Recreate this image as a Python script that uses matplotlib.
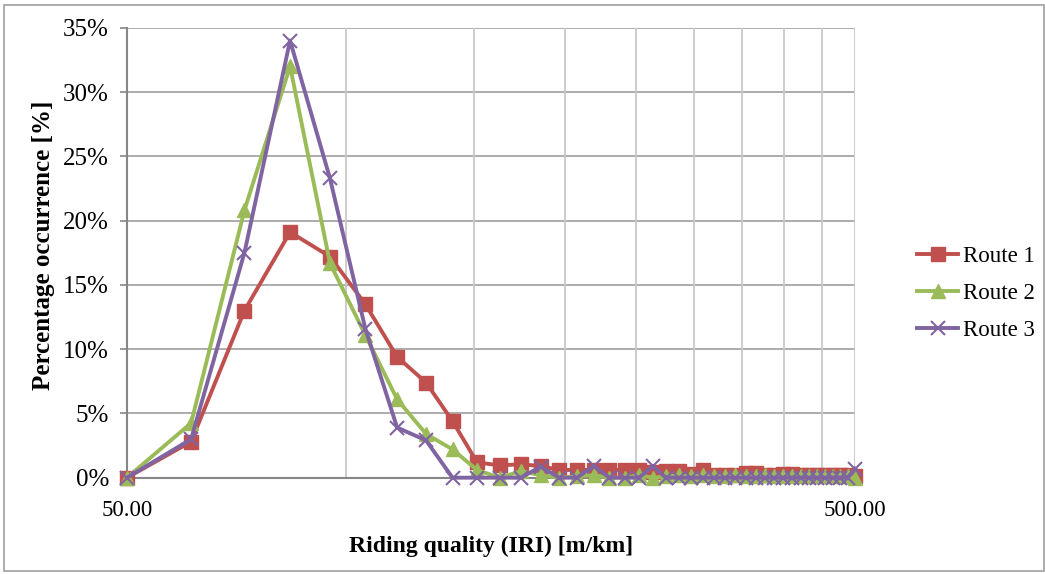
import matplotlib.pyplot as plt
from matplotlib.patches import Rectangle
from matplotlib.ticker import FixedLocator, NullFormatter, FixedFormatter

# IRI bin values (m/km)
iri = [50.00, 61.25, 72.50, 83.75, 95.00, 106.25, 117.50, 128.75, 140.00, 151.25,
       162.50, 173.75, 185.00, 196.25, 207.50, 218.75, 230.00, 241.25, 252.50, 263.75,
       275.00, 286.25, 297.50, 308.75, 320.00, 331.25, 342.50, 353.75, 365.00, 376.25,
       387.50, 398.75, 410.00, 421.25, 432.50, 443.75, 455.00, 466.25, 477.50, 488.75,
       500.00]

# percentage occurrence per route
route1 = [0.0, 2.8, 13.0, 19.1, 17.2, 13.5, 9.4, 7.4, 4.4, 1.2,
          0.95, 1.05, 0.9, 0.6, 0.6, 0.6, 0.6, 0.6, 0.6, 0.45,
          0.5, 0.5, 0.3, 0.6, 0.2, 0.2, 0.2, 0.4, 0.4, 0.2,
          0.2, 0.3, 0.3, 0.2, 0.2, 0.2, 0.2, 0.2, 0.2, 0.2,
          0.1]
route2 = [0.0, 4.25, 20.8, 32.0, 16.7, 11.1, 6.1, 3.4, 2.2, 0.6,
          0.0, 0.5, 0.2, 0.0, 0.1, 0.2, 0.0, 0.0, 0.2, 0.0,
          0.1, 0.2, 0.1, 0.2, 0.1, 0.1, 0.2, 0.1, 0.1, 0.2,
          0.1, 0.1, 0.1, 0.1, 0.1, 0.1, 0.1, 0.1, 0.1, 0.1,
          0.0]
route3 = [0.0, 3.0, 17.5, 34.0, 23.3, 11.6, 3.9, 2.9, 0.0, 0.0,
          0.0, 0.0, 0.85, 0.0, 0.0, 0.9, 0.0, 0.0, 0.0, 0.9,
          0.0, 0.0, 0.0, 0.0, 0.0, 0.0, 0.0, 0.0, 0.0, 0.0,
          0.0, 0.0, 0.0, 0.0, 0.0, 0.0, 0.0, 0.0, 0.0, 0.0,
          0.7]

y_ticks = [0, 5, 10, 15, 20, 25, 30, 35]
x_grid = [100, 150, 200, 250, 300, 350, 400, 450, 500]

plt.rcParams.update({
    'font.family': ['Liberation Serif', 'DejaVu Serif'],
    'font.size': 16,
})

fig = plt.figure(figsize=(10.45, 5.74), dpi=100)
ax = fig.add_axes([0.1215, 0.1678, 0.6967, 0.7839])

ax.set_xscale('log')
ax.set_xlim(50, 500)
ax.set_ylim(0, 35)

# grid
for y in y_ticks[1:]:
    ax.axhline(y, color='#A6A6A6', lw=1.3, zorder=1)
for x in x_grid:
    ax.axvline(x, color='#C8C8C8', lw=1.3, zorder=1)

ax.plot(iri, route1, color='#C0504D', lw=2.8, marker='s', ms=10,
        label='Route 1', zorder=3, clip_on=False)
ax.plot(iri, route2, color='#9BBB59', lw=2.8, marker='^', ms=10,
        label='Route 2', zorder=4, clip_on=False)
ax.plot(iri, route3, color='#8064A2', lw=2.8, marker='x', ms=10, mew=1.5,
        label='Route 3', zorder=5, clip_on=False)

# axes styling
for s in ['top', 'right']:
    ax.spines[s].set_visible(False)
ax.spines['left'].set_color('#868686')
ax.spines['bottom'].set_color('#868686')
ax.spines['left'].set_linewidth(1.5)
ax.spines['bottom'].set_linewidth(1.5)

ax.yaxis.set_major_locator(FixedLocator(y_ticks))
ax.set_yticklabels([f'{v}%' for v in y_ticks])
ax.tick_params(axis='y', length=5, width=1.2, color='#868686', pad=8, labelsize=18)

ax.xaxis.set_major_locator(FixedLocator([50, 500]))
ax.xaxis.set_major_formatter(FixedFormatter(['50.00', '500.00']))
ax.xaxis.set_minor_locator(FixedLocator([]))
ax.xaxis.set_minor_formatter(NullFormatter())
ax.tick_params(axis='x', length=0, pad=16, labelsize=16.5)

ax.set_xlabel('Riding quality (IRI) [m/km]', fontweight='bold', fontsize=17, labelpad=11)
ax.set_ylabel('Percentage occurrence [%]', fontweight='bold', fontsize=18)
ax.yaxis.set_label_coords(-0.099, 0.517)

ax.legend(loc='center left', bbox_to_anchor=(1.085, 0.41), frameon=False, fontsize=16.5,
          handlelength=1.8, handletextpad=0.2, labelspacing=0.7, borderpad=0,
          borderaxespad=0)

# outer chart border
fig.patches.append(Rectangle((0.004, 0.005), 0.995, 0.986, transform=fig.transFigure,
                             fill=False, edgecolor='#A0A0A0', lw=1.2))

fig.savefig('out.png', dpi=100)
